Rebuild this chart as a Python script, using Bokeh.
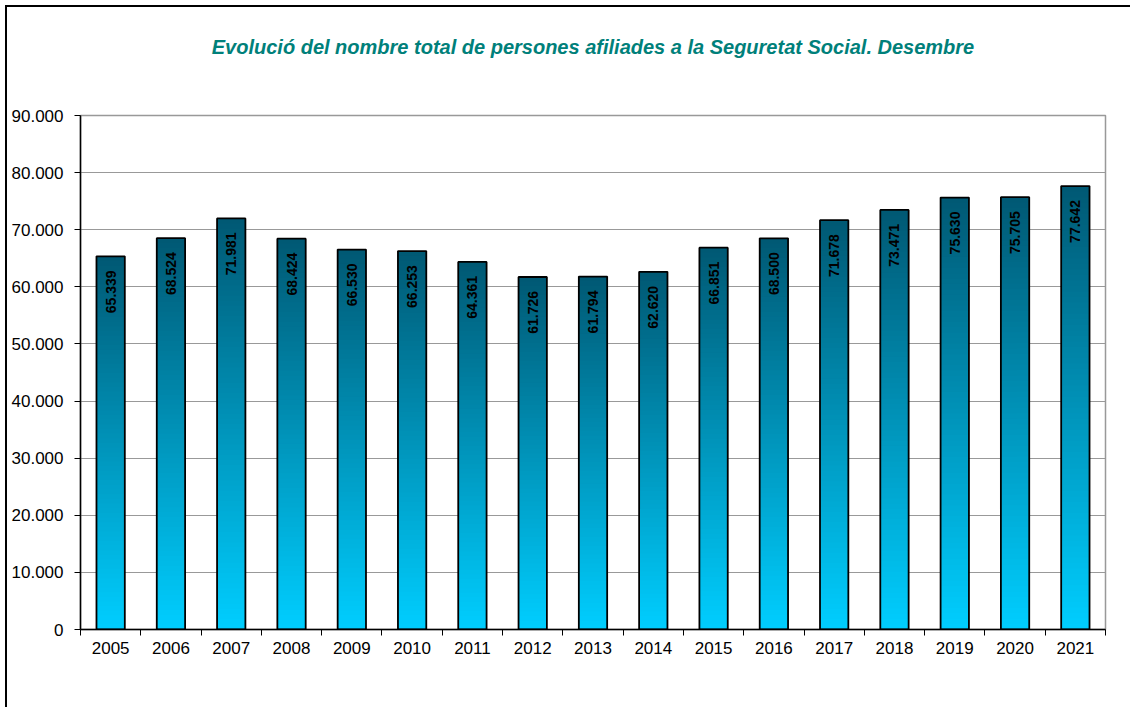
import numpy as np
from bokeh.plotting import figure
from bokeh.models import FixedTicker, ColumnDataSource, Range1d, Title
from bokeh.core.properties import value
from bokeh.embed import file_html
from bokeh.resources import INLINE

years = [2005, 2006, 2007, 2008, 2009, 2010, 2011, 2012, 2013, 2014, 2015, 2016, 2017, 2018, 2019, 2020, 2021]
afiliats = [65339, 68524, 71981, 68424, 66530, 66253, 64361, 61726, 61794, 62620, 66851, 68500, 71678, 73471, 75630, 75705, 77642]
y_ticks = [0, 10000, 20000, 30000, 40000, 50000, 60000, 70000, 80000, 90000]
title_text = "Evolució del nombre total de persones afiliades a la Seguretat Social. Desembre"

def fmt(v):
    return f"{v:,}".replace(",", ".")

p = figure(width=1125, height=702, output_backend="svg", toolbar_location=None,
           x_range=Range1d(years[0] - 0.5, years[-1] + 0.5), y_range=Range1d(0, 90000),
           min_border_left=73, min_border_right=27, min_border_top=108, min_border_bottom=80,
           title_location=None)
p.styles = {"margin-left": "5px", "margin-top": "5px",
            "border-left": "2px solid black", "border-top": "2px solid black"}

# spacer between the title and the frame, then the title itself
spacer = Title(text=" ", text_font_size="10px", standoff=20)
main_title = Title(text=title_text, text_font="Liberation Sans",
                   text_font_style="bold italic", text_font_size="20px",
                   text_color="#00807A", align="center", offset=12, standoff=49)
p.add_layout(spacer, "above")
p.add_layout(main_title, "above")

# gradient bars built from stacked, slightly overlapping slices
n = 80
top_c = np.array([0, 88, 115])
bot_c = np.array([0, 206, 255])
xs, bots, tops, cols = [], [], [], []
for yr, v in zip(years, afiliats):
    for i in range(n):
        f0 = i / n
        f1 = min((i + 2) / n, 1.0)
        c = bot_c + (top_c - bot_c) * ((i + 0.5) / n)
        xs.append(yr)
        bots.append(v * f0)
        tops.append(v * f1)
        cols.append("#%02x%02x%02x" % tuple(int(round(k)) for k in c))
seg = ColumnDataSource(dict(x=xs, bottom=bots, top=tops, color=cols))
p.vbar(x="x", bottom="bottom", top="top", width=0.47, fill_color="color",
       line_color=None, source=seg)

src = ColumnDataSource(dict(x=years, top=afiliats, label=[fmt(v) for v in afiliats]))
p.vbar(x="x", top="top", width=0.47, fill_color=None, line_color="black",
       line_width=1.8, source=src)
p.text(x="x", y="top", text="label", source=src, angle=np.pi / 2,
       text_align="right", text_baseline="middle", y_offset=14,
       text_font=value("Liberation Sans"), text_font_style="bold",
       text_font_size="14px", text_color="black")

# axes
p.xaxis.ticker = FixedTicker(ticks=years, minor_ticks=[y - 0.5 for y in years] + [years[-1] + 0.5])
p.xaxis.major_label_overrides = {y: str(y) for y in years}
p.xaxis.major_tick_line_color = None
p.xaxis.minor_tick_in = 0
p.xaxis.minor_tick_out = 6
p.xaxis.minor_tick_line_color = "black"
p.xaxis.axis_line_color = "black"
p.xaxis.axis_line_width = 1.5
p.xaxis.major_label_text_font = "Liberation Sans"
p.xaxis.major_label_text_font_size = "17px"
p.xaxis.major_label_text_color = "black"
p.xaxis.major_label_standoff = 6

p.yaxis.ticker = FixedTicker(ticks=y_ticks, minor_ticks=[])
p.yaxis.major_label_overrides = {t: fmt(t) for t in y_ticks}
p.yaxis.major_tick_in = 0
p.yaxis.major_tick_out = 6
p.yaxis.major_tick_line_color = "black"
p.yaxis.axis_line_color = "black"
p.yaxis.axis_line_width = 1.5
p.yaxis.major_label_text_font = "Liberation Sans"
p.yaxis.major_label_text_font_size = "17px"
p.yaxis.major_label_text_color = "black"
p.yaxis.major_label_standoff = 11

p.xgrid.grid_line_color = None
p.ygrid.ticker = FixedTicker(ticks=y_ticks)
p.ygrid.grid_line_color = "#999999"
p.ygrid.grid_line_width = 1
p.outline_line_color = "#999999"
p.outline_line_width = 1.5
p.background_fill_color = "white"
p.border_fill_color = "white"

open("out.html", "w").write(file_html(p, INLINE))
